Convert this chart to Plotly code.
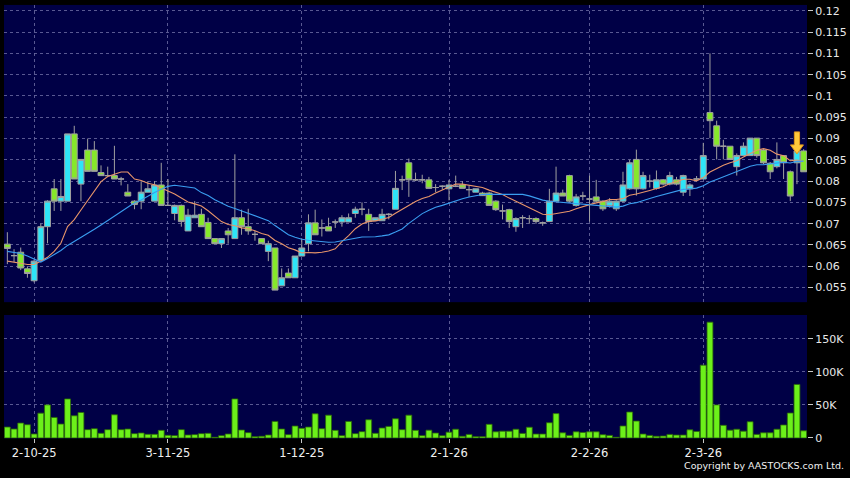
import plotly.graph_objects as go
import pandas as pd

# ---- data (session index 0..119) ----
opens = [0.0652, 0.0625, 0.0633, 0.0594, 0.0566, 0.0614, 0.0693, 0.0782, 0.0753, 0.0753,
         0.0911, 0.0793, 0.0873, 0.0873, 0.0820, 0.0813, 0.0813, 0.0805, 0.0774, 0.0753,
         0.0753, 0.0774, 0.0753, 0.0791, 0.0743, 0.0724, 0.0743, 0.0683, 0.0714, 0.0722,
         0.0703, 0.0665, 0.0653, 0.0683, 0.0665, 0.0714, 0.0693, 0.0675, 0.0665, 0.0635,
         0.0643, 0.0554, 0.0584, 0.0573, 0.0624, 0.0653, 0.0702, 0.0690, 0.0693, 0.0704,
         0.0704, 0.0704, 0.0724, 0.0734, 0.0722, 0.0707, 0.0707, 0.0722, 0.0734, 0.0803,
         0.0843, 0.0803, 0.0803, 0.0803, 0.0785, 0.0788, 0.0782, 0.0788, 0.0791, 0.0780,
         0.0774, 0.0772, 0.0772, 0.0753, 0.0730, 0.0733, 0.0693, 0.0714, 0.0712, 0.0712,
         0.0702, 0.0705, 0.0753, 0.0772, 0.0813, 0.0743, 0.0765, 0.0758, 0.0763, 0.0753,
         0.0743, 0.0735, 0.0753, 0.0782, 0.0851, 0.0782, 0.0800, 0.0783, 0.0803, 0.0793,
         0.0803, 0.0774, 0.0782, 0.0805, 0.0805, 0.0961, 0.0930, 0.0882, 0.0882, 0.0834,
         0.0860, 0.0860, 0.0901, 0.0873, 0.0842, 0.0834, 0.0860, 0.0822, 0.0843, 0.0871]
highs = [0.0680, 0.0640, 0.0644, 0.0600, 0.0615, 0.0700, 0.0755, 0.0805, 0.0805, 0.0911,
         0.0930, 0.0851, 0.0900, 0.0894, 0.0837, 0.0834, 0.0883, 0.0810, 0.0793, 0.0755,
         0.0800, 0.0800, 0.0800, 0.0843, 0.0805, 0.0745, 0.0745, 0.0735, 0.0753, 0.0735,
         0.0714, 0.0665, 0.0665, 0.0690, 0.0863, 0.0733, 0.0735, 0.0683, 0.0665, 0.0660,
         0.0643, 0.0595, 0.0595, 0.0624, 0.0666, 0.0722, 0.0733, 0.0710, 0.0714, 0.0710,
         0.0720, 0.0724, 0.0740, 0.0750, 0.0735, 0.0714, 0.0735, 0.0725, 0.0824, 0.0813,
         0.0853, 0.0820, 0.0815, 0.0810, 0.0793, 0.0790, 0.0803, 0.0813, 0.0800, 0.0790,
         0.0782, 0.0775, 0.0775, 0.0755, 0.0745, 0.0735, 0.0715, 0.0720, 0.0720, 0.0715,
         0.0705, 0.0782, 0.0834, 0.0780, 0.0815, 0.0770, 0.0775, 0.0813, 0.0803, 0.0755,
         0.0760, 0.0755, 0.0822, 0.0850, 0.0874, 0.0822, 0.0815, 0.0825, 0.0805, 0.0822,
         0.0810, 0.0815, 0.0795, 0.0812, 0.0890, 0.1100, 0.0942, 0.0897, 0.0882, 0.0865,
         0.0891, 0.0901, 0.0901, 0.0875, 0.0845, 0.0891, 0.0860, 0.0825, 0.0875, 0.0875]
lows = [0.0605, 0.0610, 0.0591, 0.0573, 0.0562, 0.0614, 0.0654, 0.0730, 0.0730, 0.0753,
        0.0805, 0.0753, 0.0823, 0.0823, 0.0813, 0.0813, 0.0805, 0.0790, 0.0765, 0.0734,
        0.0734, 0.0774, 0.0753, 0.0743, 0.0743, 0.0708, 0.0693, 0.0683, 0.0714, 0.0693,
        0.0665, 0.0653, 0.0643, 0.0653, 0.0665, 0.0674, 0.0674, 0.0660, 0.0653, 0.0612,
        0.0544, 0.0554, 0.0573, 0.0573, 0.0624, 0.0635, 0.0674, 0.0670, 0.0683, 0.0690,
        0.0693, 0.0704, 0.0714, 0.0720, 0.0683, 0.0707, 0.0707, 0.0710, 0.0734, 0.0779,
        0.0763, 0.0800, 0.0795, 0.0783, 0.0774, 0.0780, 0.0755, 0.0786, 0.0783, 0.0763,
        0.0774, 0.0766, 0.0743, 0.0730, 0.0710, 0.0690, 0.0681, 0.0690, 0.0700, 0.0700,
        0.0695, 0.0705, 0.0753, 0.0765, 0.0750, 0.0740, 0.0755, 0.0705, 0.0750, 0.0730,
        0.0738, 0.0730, 0.0750, 0.0780, 0.0766, 0.0780, 0.0785, 0.0780, 0.0790, 0.0790,
        0.0790, 0.0765, 0.0765, 0.0800, 0.0805, 0.0901, 0.0851, 0.0851, 0.0851, 0.0813,
        0.0860, 0.0860, 0.0855, 0.0840, 0.0805, 0.0830, 0.0805, 0.0753, 0.0793, 0.0822]
closes = [0.0642, 0.0625, 0.0596, 0.0583, 0.0612, 0.0693, 0.0753, 0.0753, 0.0764, 0.0911,
          0.0805, 0.0851, 0.0823, 0.0823, 0.0813, 0.0813, 0.0805, 0.0805, 0.0765, 0.0745,
          0.0774, 0.0782, 0.0791, 0.0743, 0.0743, 0.0743, 0.0705, 0.0720, 0.0720, 0.0693,
          0.0665, 0.0653, 0.0665, 0.0674, 0.0714, 0.0693, 0.0683, 0.0675, 0.0653, 0.0653,
          0.0544, 0.0573, 0.0573, 0.0624, 0.0643, 0.0702, 0.0674, 0.0690, 0.0683, 0.0704,
          0.0714, 0.0714, 0.0734, 0.0734, 0.0705, 0.0714, 0.0722, 0.0722, 0.0783, 0.0803,
          0.0803, 0.0803, 0.0803, 0.0783, 0.0785, 0.0788, 0.0791, 0.0788, 0.0783, 0.0780,
          0.0782, 0.0766, 0.0743, 0.0733, 0.0730, 0.0705, 0.0712, 0.0714, 0.0712, 0.0705,
          0.0702, 0.0753, 0.0772, 0.0765, 0.0753, 0.0763, 0.0765, 0.0758, 0.0753, 0.0735,
          0.0753, 0.0753, 0.0791, 0.0843, 0.0782, 0.0813, 0.0800, 0.0803, 0.0793, 0.0813,
          0.0793, 0.0813, 0.0791, 0.0805, 0.0860, 0.0942, 0.0882, 0.0882, 0.0851, 0.0860,
          0.0882, 0.0901, 0.0860, 0.0843, 0.0822, 0.0851, 0.0843, 0.0765, 0.0871, 0.0822]
volumes_k = [16.5, 13.5, 22.5, 20, 6, 37.5, 50, 31, 21, 59,
             33.5, 38.5, 12.5, 14, 7, 12.5, 35, 12.5, 13.5, 6.5,
             7.5, 5.5, 5.5, 11.5, 4, 3.5, 12.5, 4.5, 5, 6.5,
             7, 1, 3.5, 6, 59, 12, 8, 2, 2.5, 4.5,
             25, 13.5, 5, 18, 14.5, 16.5, 36.5, 14, 34.5, 11.5,
             3.5, 25, 6.5, 9.5, 27.5, 7, 15, 17.5, 29, 12.5,
             34.5, 11.5, 3.5, 11.8, 7.4, 3.4, 8.8, 13.2, 2.5, 5.4,
             2, 2, 20.6, 9.3, 10.3, 10.3, 13.2, 6.9, 16.2, 5.9,
             5.9, 23, 36.8, 7.8, 3.9, 9.3, 8.3, 9.3, 9.3, 4.9,
             3.9, 1, 18.1, 39.2, 25.5, 5.9, 3.9, 2.5, 2.9, 5.4,
             4.4, 4.4, 12.3, 9.8, 110, 175, 50, 19.1, 11.8, 13.2,
             10.3, 24.5, 5.4, 7.8, 7.8, 13.2, 19.6, 37.7, 80.9, 10.8]
ma10_early = [0.0612, 0.0610, 0.0607, 0.0604, 0.0604, 0.0612, 0.0621, 0.0635, 0.0654]
ma20_early = [0.0635, 0.0633, 0.0630, 0.0624, 0.0616, 0.0610, 0.0618, 0.0627, 0.0637, 0.0649,
              0.0658, 0.0667, 0.0677, 0.0687, 0.0697, 0.0707, 0.0718, 0.0727, 0.0737]

x_tick_pos = [4, 24, 44, 66, 87, 104]
x_tick_text = ["2-10-25", "3-11-25", "1-12-25", "2-1-26", "2-2-26", "2-3-26"]
price_tick_vals = [0.055, 0.06, 0.065, 0.07, 0.075, 0.08, 0.085, 0.09, 0.095, 0.1, 0.105, 0.11, 0.115, 0.12]
price_tick_text = ["0.055", "0.06", "0.065", "0.07", "0.075", "0.08", "0.085", "0.09", "0.095",
                   "0.1", "0.105", "0.11", "0.115", "0.12"]
vol_tick_vals = [0, 50000, 100000, 150000]
vol_tick_text = ["0", "50K", "100K", "150K"]
arrow_session = 118
arrow_price = 0.0864

# ---- derived ----
n = len(closes)
sessions = list(range(n))
volumes = [v * 1000 for v in volumes_k]
cs = pd.Series(closes)
ma10 = cs.rolling(10).mean().tolist()
ma20 = cs.rolling(20).mean().tolist()
ma10[:len(ma10_early)] = ma10_early
ma20[:len(ma20_early)] = ma20_early

W, H = 850, 478
BG = "#000046"
GRID = "rgba(105,105,160,0.85)"
FONT = "DejaVu Sans"

fig = go.Figure()
fig.add_trace(go.Candlestick(
    x=sessions, open=opens, high=highs, low=lows, close=closes,
    increasing=dict(line=dict(color="#a0a0a0", width=1), fillcolor="#2ee4f7"),
    decreasing=dict(line=dict(color="#a0a0a0", width=1), fillcolor="#86e82a"),
    xaxis="x", yaxis="y", showlegend=False, hoverinfo="skip"))
fig.add_trace(go.Scatter(x=sessions, y=ma10, mode="lines",
                         line=dict(color="#e8956a", width=1.1), xaxis="x", yaxis="y",
                         showlegend=False, hoverinfo="skip"))
fig.add_trace(go.Scatter(x=sessions, y=ma20, mode="lines",
                         line=dict(color="#3a9df0", width=1.1), xaxis="x", yaxis="y",
                         showlegend=False, hoverinfo="skip"))
fig.add_trace(go.Bar(x=sessions, y=volumes, marker=dict(color="#6cf01a",
                     line=dict(color="#2c6a08", width=0.8)),
                     xaxis="x2", yaxis="y2", showlegend=False, hoverinfo="skip"))

xdom = [4 / W, 807 / W]
common_x = dict(domain=xdom, range=[-0.5, n - 0.5], tickvals=x_tick_pos,
                showgrid=True, gridcolor=GRID, griddash="3px,3px", gridwidth=1,
                zeroline=False, showline=False)
fig.update_layout(
    width=W, height=H, autosize=False, margin=dict(l=0, r=0, t=0, b=0, pad=0),
    paper_bgcolor="black", plot_bgcolor=BG, boxgap=0.12, boxgroupgap=0, bargap=0.12,
    xaxis=dict(**common_x, anchor="y", showticklabels=False, ticks="",
               rangeslider=dict(visible=False)),
    xaxis2=dict(**common_x, anchor="y2", matches="x", ticktext=x_tick_text,
                ticks="outside", ticklen=4, tickcolor="#c8c8c8",
                tickfont=dict(family=FONT, size=11.5, color="#f0f0f0")),
    yaxis=dict(domain=[1 - 306 / H, 1 - 5 / H], range=[0.05157, 0.12139],
               side="right", anchor="x", tickvals=price_tick_vals, ticktext=price_tick_text,
               ticks="outside", ticklen=5, tickcolor="#c8c8c8",
               tickfont=dict(family=FONT, size=11, color="#e8e8e8"),
               showgrid=True, gridcolor=GRID, griddash="3px,3px", zeroline=False),
    yaxis2=dict(domain=[1 - 444 / H, 1 - 319 / H], range=[-700, 185800],
                side="right", anchor="x2", tickvals=vol_tick_vals, ticktext=vol_tick_text,
                ticks="outside", ticklen=5, tickcolor="#c8c8c8",
                tickfont=dict(family=FONT, size=11, color="#e8e8e8"),
                showgrid=True, gridcolor=GRID, griddash="3px,3px", zeroline=False),
)

# down arrow marker above the latest-but-one session
fig.add_shape(type="path", xref="x", yref="y", xsizemode="pixel", ysizemode="pixel",
              xanchor=arrow_session, yanchor=arrow_price,
              path="M 0,0 L -6.5,9 L -2.6,9 L -2.6,22 L 2.6,22 L 2.6,9 L 6.5,9 Z",
              fillcolor="#ffc83a", line=dict(color="#e0961c", width=1), layer="above")

fig.add_annotation(text="Copyright by AASTOCKS.com Ltd.", xref="paper", yref="paper",
                   x=846 / W, y=1 - 471 / H, xanchor="right", yanchor="middle",
                   showarrow=False, font=dict(family=FONT, size=9.5, color="#f0f0f0"))

page_fix = (
    "document.documentElement.style.margin='0';"
    "document.documentElement.style.background='black';"
    "document.body.style.margin='0';"
    "document.body.style.background='black';"
)
fig.write_html("out.html", config={"displayModeBar": False, "responsive": False},
               post_script=page_fix)
